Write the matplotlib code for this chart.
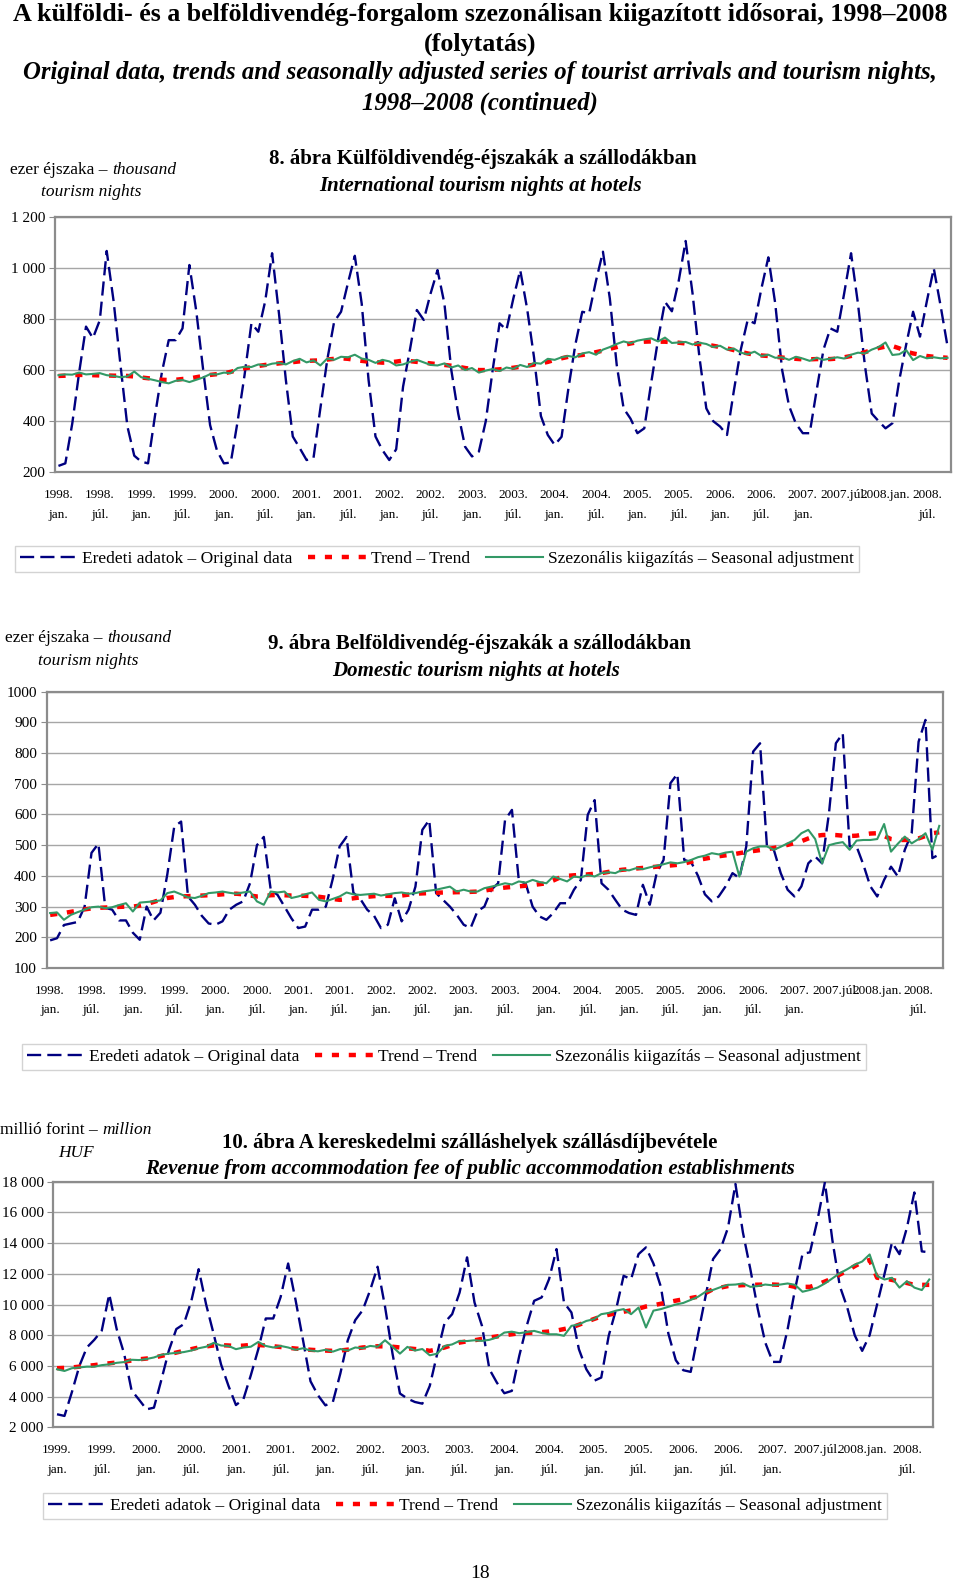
import matplotlib
matplotlib.use('Agg')
import matplotlib.pyplot as plt
import numpy as np

plt.rcParams['font.family'] = ['Liberation Serif', 'DejaVu Serif']

W, H = 960, 1583

# --- 8. ábra: international tourism nights at hotels, 1998 jan - 2008 okt (ezer)
intl_orig = [225, 235, 390, 590, 770, 725, 795, 1066, 870, 620, 380, 265,
             242, 235, 420, 590, 717, 717, 763, 1011, 830, 600, 385, 285,
             235, 238, 400, 580, 783, 750, 870, 1057, 820, 560, 340, 295,
             248, 255, 450, 640, 789, 828, 940, 1047, 860, 560, 340, 287,
             248, 290, 535, 680, 835, 796, 900, 991, 860, 600, 430, 300,
             262, 281, 400, 600, 783, 757, 880, 991, 840, 650, 420, 346,
             307, 339, 530, 700, 828, 822, 950, 1063, 880, 620, 450, 410,
             353, 372, 550, 720, 867, 830, 950, 1105, 900, 650, 450, 400,
             379, 346, 520, 680, 796, 783, 920, 1041, 860, 600, 460, 390,
             353, 353, 520, 680, 763, 750, 900, 1057, 860, 620, 430, 400,
             372, 392, 561, 700, 828, 731, 870, 998, 850, 692]
intl_trend = [577, 578, 580, 581, 581, 580, 579, 579, 578, 578, 577, 575,
              571, 568, 565, 562, 561, 562, 565, 567, 572, 577, 581, 584,
              587, 593, 600, 607, 611, 616, 620, 623, 626, 629, 631, 634,
              636, 637, 638, 641, 644, 646, 644, 640, 636, 633, 631, 629,
              630, 633, 637, 635, 632, 629, 626, 623, 620, 617, 613, 608,
              604, 600, 600, 601, 603, 606, 609, 613, 617, 621, 626, 632,
              640, 646, 652, 656, 659, 664, 670, 676, 683, 690, 698, 704,
              709, 711, 712, 711, 711, 709, 707, 704, 703, 702, 700, 695,
              690, 685, 678, 671, 665, 660, 657, 655, 652, 649, 646, 644,
              642, 642, 643, 643, 643, 645, 650, 655, 662, 670, 678, 686,
              692, 694, 685, 672, 665, 660, 655, 652, 650, 648]
intl_sa = [580, 583, 582, 590, 583, 585, 588, 580, 577, 572, 575, 594,
           572, 566, 560, 553, 548, 558, 561, 553, 562, 571, 584, 583,
           590, 588, 608, 613, 612, 622, 617, 625, 628, 622, 635, 644,
           630, 638, 618, 645, 640, 652, 650, 660, 645, 640, 628, 640,
           634, 618, 622, 632, 640, 630, 620, 618, 626, 610, 618, 600,
           608, 590, 598, 604, 596, 610, 605, 620, 612, 628, 625, 644,
           640, 650, 655, 650, 665, 670, 660, 680, 690, 702, 712, 705,
           715, 720, 724, 712, 727, 706, 708, 710, 700, 707, 702, 690,
           695, 680, 684, 668, 662, 672, 655, 660, 648, 650, 640, 652,
           645, 636, 648, 640, 645, 650, 645, 660, 668, 665, 680, 690,
           708, 659, 662, 678, 639, 655, 646, 650, 646, 648]

# --- 9. ábra: domestic tourism nights at hotels, 1998 jan - 2008 okt (ezer)
dom_orig = [190, 197, 240, 245, 250, 300, 475, 505, 296, 290, 255, 255,
            215, 192, 300, 255, 280, 405, 560, 577, 333, 306, 270, 245,
            241, 252, 290, 306, 317, 376, 500, 527, 355, 338, 300, 262,
            230, 235, 290, 290, 300, 390, 496, 527, 345, 325, 290, 270,
            230, 241, 327, 252, 290, 365, 550, 582, 344, 322, 300, 273,
            241, 230, 285, 300, 355, 376, 582, 615, 385, 375, 300, 268,
            257, 279, 311, 311, 355, 387, 599, 647, 376, 355, 322, 290,
            279, 273, 371, 306, 409, 452, 702, 732, 452, 445, 400, 340,
            317, 333, 366, 409, 393, 496, 805, 832, 496, 485, 409, 355,
            333, 366, 441, 463, 441, 604, 832, 864, 496, 496, 436, 366,
            333, 387, 430, 398, 485, 539, 837, 908, 458, 470]
dom_trend = [273, 276, 279, 283, 287, 291, 294, 296, 297, 298, 299, 300,
             300, 303, 308, 315, 322, 328, 331, 333, 334, 335, 336, 337,
             338, 340, 341, 342, 340, 336, 333, 334, 337, 338, 337, 336,
             336, 335, 334, 332, 329, 325, 322, 324, 327, 330, 332, 334,
             335, 335, 335, 336, 339, 342, 343, 344, 345, 346, 346, 347,
             347, 348, 349, 352, 356, 359, 362, 364, 366, 368, 370, 373,
             376, 385, 395, 400, 402, 403, 405, 407, 409, 413, 417, 420,
             422, 424, 426, 428, 430, 432, 434, 436, 440, 446, 452, 456,
             460, 464, 467, 470, 474, 478, 481, 484, 487, 491, 496, 501,
             507, 513, 522, 530, 533, 534, 533, 531, 530, 531, 535, 538,
             539, 530, 520, 517, 517, 518, 522, 530, 539, 542]
dom_sa = [279, 281, 257, 273, 282, 290, 298, 300, 295, 298, 305, 311,
          284, 313, 315, 317, 320, 344, 349, 340, 330, 328, 335, 344,
          346, 349, 345, 342, 346, 349, 317, 306, 349, 346, 349, 328,
          333, 340, 346, 322, 317, 325, 333, 346, 340, 338, 340, 342,
          336, 340, 344, 346, 342, 344, 349, 352, 355, 360, 365, 349,
          355, 349, 349, 360, 365, 370, 376, 372, 382, 378, 387, 380,
          376, 398, 390, 382, 398, 395, 403, 398, 409, 412, 409, 420,
          418, 425, 422, 428, 433, 438, 444, 441, 445, 452, 461, 466,
          474, 470, 476, 479, 398, 479, 490, 496, 496, 485, 495, 506,
          517, 539, 550, 520, 441, 500, 506, 510, 485, 515, 517, 517,
          520, 569, 479, 505, 528, 506, 520, 539, 485, 563]

# --- 10. ábra: revenue from accommodation fee, 1999 jan - 2008 okt (millió Ft)
rev_orig = [2850, 2740, 4300, 6000, 7200, 7700, 8300, 10670, 8400, 6800, 4400, 3800,
            3170, 3280, 5100, 7000, 8400, 8720, 10200, 12300, 10000, 8100, 6100, 4700,
            3450, 3830, 5400, 7090, 9090, 9090, 10500, 12670, 10280, 7670, 5000, 4090,
            3430, 3650, 5500, 7670, 8980, 9630, 10930, 12460, 9850, 6800, 4200, 3870,
            3650, 3540, 4700, 6800, 8830, 9370, 10780, 13070, 10130, 8610, 5780, 4910,
            4220, 4370, 6650, 8610, 10240, 10460, 11650, 13610, 10130, 9480, 7090, 5780,
            5020, 5240, 7960, 9700, 11870, 11650, 13280, 13720, 12670, 11150, 8110, 6370,
            5720, 5610, 8110, 10560, 12960, 13610, 15000, 17850, 14700, 12300, 9700, 7520,
            6260, 6260, 8390, 11000, 13300, 13400, 15500, 17960, 14200, 11200, 9800, 8000,
            6980, 8000, 10000, 12000, 14040, 13280, 15000, 17300, 13460, 13400]
rev_trend = [5850, 5870, 5900, 5950, 6000, 6050, 6120, 6170, 6220, 6280, 6350, 6430,
             6480, 6540, 6650, 6760, 6870, 6980, 7090, 7200, 7270, 7330, 7350, 7330,
             7300, 7320, 7370, 7360, 7330, 7280, 7230, 7180, 7130, 7090, 7050, 7020,
             7000, 6980, 7000, 7060, 7130, 7200, 7240, 7280, 7270, 7250, 7200, 7150,
             7100, 7070, 6980, 7080, 7200, 7360, 7520, 7600, 7670, 7760, 7850, 7920,
             8000, 8060, 8130, 8150, 8170, 8200, 8240, 8300, 8400, 8500, 8680, 8870,
             9050, 9220, 9330, 9430, 9530, 9620, 9730, 9870, 9950, 10050, 10150, 10250,
             10340, 10420, 10510, 10750, 11000, 11100, 11200, 11230, 11260, 11280, 11290, 11300,
             11300, 11280, 11250, 11150, 11150, 11150, 11300, 11500, 11700, 11950, 12200, 12500,
             12750, 12900, 11740, 11700, 11600, 11500, 11400, 11280, 11280, 11280]
rev_sa = [5780, 5670, 5850, 5900, 5950, 5950, 6050, 6100, 6200, 6250, 6400, 6380,
          6450, 6550, 6720, 6800, 6850, 6900, 7000, 7150, 7250, 7500, 7330, 7300,
          7090, 7200, 7250, 7560, 7300, 7200, 7300, 7200, 7050, 7150, 7000, 6950,
          7050, 6930, 7100, 7000, 7200, 7150, 7300, 7250, 7670, 7250, 6800, 7240,
          7000, 7100, 6690, 6800, 7300, 7400, 7630, 7620, 7670, 7630, 7700, 7850,
          8170, 8230, 8130, 8200, 8280, 8150, 8060, 8060, 7960, 8610, 8700, 8930,
          9040, 9370, 9450, 9600, 9700, 9370, 9800, 8500, 9600, 9700, 9850, 10000,
          10100, 10300, 10510, 10830, 10950, 11130, 11280, 11300, 11370, 11150, 11200, 11300,
          11250, 11300, 11370, 11280, 10830, 10950, 11100, 11370, 11700, 12040, 12300, 12590,
          12800, 13260, 11850, 11630, 11740, 11100, 11520, 11100, 10940, 11630]

xlabels_98 = ['1998.\njan.', '1998.\njúl.', '1999.\njan.', '1999.\njúl.', '2000.\njan.',
              '2000.\njúl.', '2001.\njan.', '2001.\njúl.', '2002.\njan.', '2002.\njúl.',
              '2003.\njan.', '2003.\njúl.', '2004.\njan.', '2004.\njúl.', '2005.\njan.',
              '2005.\njúl.', '2006.\njan.', '2006.\njúl.', '2007.\njan.', '2007.júl.',
              '2008.jan.', '2008.\njúl.']
xlabels_99 = xlabels_98[2:]

legend_labels = ['Eredeti adatok – Original data', 'Trend – Trend',
                 'Szezonális kiigazítás – Seasonal adjustment']

NAVY = '#000080'
RED = '#ff0000'
GREEN = '#339966'
GRID = '#a6a6a6'
FRAME = '#8c8c8c'

fig = plt.figure(figsize=(W / 100, H / 100), dpi=100)


def fx(x):
    return x / W


def fy(y):
    return 1 - y / H


def draw_chart(left, right, top, bottom, orig, trend, sa, ymin, ymax, ystep,
               xlabels, spaced, legend_xy):
    ax = fig.add_axes([fx(left), fy(bottom), (right - left) / W, (bottom - top) / H])
    x = np.arange(len(orig))
    l1, = ax.plot(x, orig, color=NAVY, lw=1.7, dashes=(6, 2.6), zorder=3)
    l2, = ax.plot(x, trend, color=RED, lw=3.2, dashes=(1.6, 2.2), zorder=4)
    l3, = ax.plot(x, sa, color=GREEN, lw=1.5, zorder=5)
    ax.set_xlim(-0.5, len(orig) - 0.5)
    ax.set_ylim(ymin, ymax)
    yt = np.arange(ymin, ymax + 1, ystep)
    ax.set_yticks(yt)
    if spaced:
        ax.set_yticklabels(['{:,}'.format(v).replace(',', ' ') for v in yt])
    else:
        ax.set_yticklabels([str(v) for v in yt])
    ax.set_xticks(np.arange(0, len(orig), 6)[:len(xlabels)])
    ax.set_xticklabels(xlabels, fontsize=9.5, linespacing=1.85)
    ax.tick_params(axis='x', length=0, pad=12)
    ax.tick_params(axis='y', length=4, color=FRAME, labelsize=11, pad=3)
    ax.grid(axis='y', color=GRID, lw=1)
    ax.set_axisbelow(True)
    for s in ax.spines.values():
        s.set_color(FRAME)
        s.set_linewidth(1.6)
    fig.legend([l1, l2, l3], legend_labels, loc='center',
               bbox_to_anchor=(fx(legend_xy[0]), fy(legend_xy[1])), ncol=3,
               fontsize=12.5, frameon=True, fancybox=False, edgecolor='#c8c8c8',
               handlelength=3.3, handletextpad=0.3, columnspacing=0.9,
               borderpad=0.3)
    return ax


def unit_label(ax, x, y, plain, ital, second, x2, y2):
    t = fig.text(fx(x), fy(y), plain, fontsize=12.5, va='center', ha='left')
    ax.annotate(ital, xy=(1, 0), xycoords=t, va='bottom', ha='left',
                fontsize=12.5, fontstyle='italic', annotation_clip=False)
    fig.text(fx(x2), fy(y2), second, fontsize=12.5, fontstyle='italic',
             va='center', ha='center')


# main title
fig.text(0.5, fy(14), 'A külföldi- és a belföldivendég-forgalom szezonálisan kiigazított idősorai, 1998–2008',
         fontsize=18.7, fontweight='bold', ha='center', va='center')
fig.text(0.5, fy(44), '(folytatás)', fontsize=18.7, fontweight='bold', ha='center', va='center')
fig.text(0.5, fy(72), 'Original data, trends and seasonally adjusted series of tourist arrivals and tourism nights,',
         fontsize=17.8, fontweight='bold', fontstyle='italic', ha='center', va='center')
fig.text(0.5, fy(103), '1998–2008 (continued)', fontsize=17.8, fontweight='bold',
         fontstyle='italic', ha='center', va='center')

# chart 8
ax1 = draw_chart(55, 951, 216.7, 472.3, intl_orig, intl_trend, intl_sa,
                 200, 1200, 200, xlabels_98, True, (437, 559))
unit_label(ax1, 10, 170, 'ezer éjszaka – ', 'thousand', 'tourism nights', 91, 192)
fig.text(fx(483), fy(159), '8. ábra Külföldivendég-éjszakák a szállodákban',
         fontsize=15, fontweight='bold', ha='center', va='center')
fig.text(fx(481), fy(186), 'International tourism nights at hotels',
         fontsize=15, fontweight='bold', fontstyle='italic', ha='center', va='center')

# chart 9
ax2 = draw_chart(46.7, 942.7, 691.7, 968, dom_orig, dom_trend, dom_sa,
                 100, 1000, 100, xlabels_98, False, (444, 1057))
unit_label(ax2, 5, 638, 'ezer éjszaka – ', 'thousand', 'tourism nights', 88, 661)
fig.text(fx(479), fy(644), '9. ábra Belföldivendég-éjszakák a szállodákban',
         fontsize=15, fontweight='bold', ha='center', va='center')
fig.text(fx(476), fy(671), 'Domestic tourism nights at hotels',
         fontsize=15, fontweight='bold', fontstyle='italic', ha='center', va='center')

# chart 10
ax3 = draw_chart(53.3, 933, 1181.7, 1427.3, rev_orig, rev_trend, rev_sa,
                 2000, 18000, 2000, xlabels_99, True, (465, 1506))
unit_label(ax3, 0, 1130, 'millió forint – ', 'million', 'HUF', 76, 1153)
fig.text(fx(470), fy(1143), '10. ábra A kereskedelmi szálláshelyek szállásdíjbevétele',
         fontsize=15, fontweight='bold', ha='center', va='center')
fig.text(fx(470), fy(1169), 'Revenue from accommodation fee of public accommodation establishments',
         fontsize=15, fontweight='bold', fontstyle='italic', ha='center', va='center')

fig.text(0.5, fy(1573), '18', fontsize=14, ha='center', va='center')

fig.savefig('out.png', dpi=100)
